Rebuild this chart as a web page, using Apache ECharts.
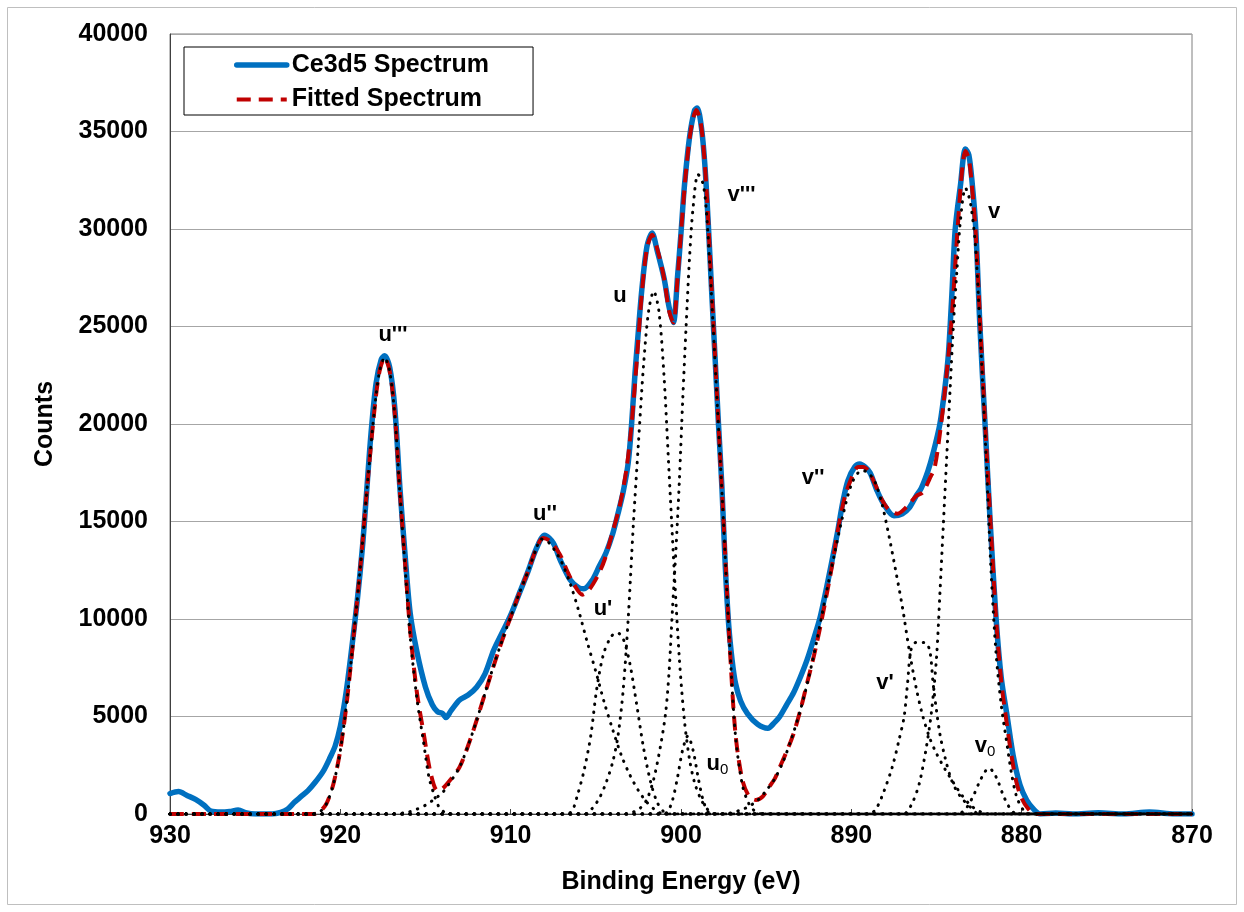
<!DOCTYPE html>
<html>
<head>
<meta charset="utf-8">
<script src="https://cdn.jsdelivr.net/npm/echarts@6/dist/echarts.min.js"></script>
<style>
html,body{margin:0;padding:0;background:#fff;}
#chart{width:1244px;height:912px;}
</style>
</head>
<body>
<div id="chart"></div>
<script>
// X axis ticks (binding energy, eV) and Y ticks (counts)
const xTicks = [930, 920, 910, 900, 890, 880, 870];
const yTicks = [0, 5000, 10000, 15000, 20000, 25000, 30000, 35000, 40000];

// Measured spectrum [E, counts]
const ce3d5 = [[930,1050],[929.5,1150],[929,950],[928.5,750],[928,450],[927.6,150],[927,100],[926.5,130],[926,200],[925.5,50],[925,0],[924,0],[923.5,80],[923.1,250],[922.7,600],[922.3,900],[921.9,1200],[921.5,1600],[921,2200],[920.6,2900],[920.3,3500],[920,4500],[919.7,6000],[919.4,8000],[919,11000],[918.7,13700],[918.5,16000],[918.2,19500],[917.9,22100],[917.6,23300],[917.4,23500],[917.1,22900],[916.8,20800],[916.5,16700],[916.2,13300],[915.9,10300],[915.5,8300],[915,6500],[914.6,5600],[914.3,5250],[914,5150],[913.8,4950],[913.5,5300],[913,5850],[912.5,6100],[912,6500],[911.5,7200],[911,8400],[910.5,9300],[910,10200],[909.5,11300],[909,12400],[908.5,13600],[908,14300],[907.5,13900],[907.1,13050],[906.5,12000],[906,11600],[905.7,11550],[905.2,12000],[904.8,12700],[904.4,13400],[904,14400],[903.7,15400],[903.4,16500],[903.1,18000],[902.9,20000],[902.7,22600],[902.5,24800],[902.3,26900],[902,29100],[901.7,29800],[901.4,28900],[901,27500],[900.7,26000],[900.45,25200],[900.2,27600],[900,29800],[899.8,32200],[899.5,34700],[899.2,36100],[899.05,36200],[898.8,35200],[898.6,33300],[898.4,30300],[898.2,26800],[898,23400],[897.8,20000],[897.6,16800],[897.4,12700],[897.2,9700],[897,7900],[896.8,6700],[896.5,5800],[896.1,5150],[895.5,4600],[894.9,4400],[894.5,4700],[894.2,5000],[893.8,5600],[893.4,6200],[893,7000],[892.6,7900],[892.2,9000],[891.8,10200],[891.2,12700],[890.8,14500],[890.5,16000],[890.2,17100],[889.8,17800],[889.5,17950],[889.2,17800],[888.9,17500],[888.5,16600],[888.1,15900],[887.5,15300],[887,15400],[886.6,15700],[886.2,16300],[885.9,16700],[885.5,17600],[885.2,18500],[884.8,20000],[884.5,21900],[884.3,23600],[884.1,26600],[883.9,30000],[883.6,32200],[883.3,34100],[883.1,33800],[882.9,32300],[882.7,30100],[882.45,25000],[882.15,20000],[881.85,15000],[881.5,10000],[881.2,7000],[880.85,5000],[880.5,3000],[880.1,1500],[879.7,700],[879.3,250],[878.9,0],[878,50],[877,0],[875.5,60],[874,0],[872.5,100],[871,0],[870,0]];

// Fitted spectrum [E, counts]
const fitted = [[930,0],[921.6,0],[921.2,120],[920.8,560],[920.4,1570],[920,3280],[919.6,5900],[919.2,9300],[918.8,12900],[918.4,17000],[918,20700],[917.7,22700],[917.4,23400],[917.1,22700],[916.8,20500],[916.5,16500],[916.2,12900],[915.9,9400],[915.5,6200],[915.1,4100],[914.7,2100],[914.3,1200],[914,1300],[913.5,1800],[913,2400],[912.5,3500],[912,4800],[911.5,6200],[911,7600],[910.5,8900],[910,10100],[909.5,11300],[909,12400],[908.5,13600],[908.1,14150],[907.7,14000],[907.1,13300],[906.7,12500],[906.3,11800],[905.8,11250],[905.4,11500],[904.9,12200],[904.5,13000],[904.1,14200],[903.6,15800],[903.2,17700],[902.9,20000],[902.6,23200],[902.3,26700],[902,29000],[901.7,29700],[901.4,29000],[901,27500],[900.7,25800],[900.45,25200],[900.2,27500],[900,29800],[899.7,33000],[899.4,35200],[899.1,36100],[898.8,35200],[898.5,32000],[898.3,28600],[898.1,25200],[897.9,21700],[897.7,18300],[897.5,15000],[897.3,11400],[897.1,8000],[896.8,4100],[896.4,1750],[896,900],[895.6,720],[895.2,900],[894.9,1300],[894.5,1800],[894.2,2400],[893.8,3200],[893.4,4100],[893,5300],[892.6,6700],[892.2,8100],[891.8,9700],[891.2,12400],[890.8,14500],[890.4,16200],[890,17200],[889.6,17800],[889.3,17800],[889,17600],[888.6,16900],[888.2,16100],[887.8,15600],[887.3,15400],[886.7,15800],[886.2,16300],[885.8,16500],[885.4,17200],[885.1,17800],[884.7,20200],[884.4,22600],[884.1,25500],[883.8,29500],[883.5,33000],[883.3,34000],[883.1,33600],[882.9,32000],[882.7,29800],[882.4,24500],[882.1,19300],[881.8,14500],[881.5,10000],[881.2,6800],[880.9,4800],[880.6,3000],[880.3,1600],[880,800],[879.6,250],[879.2,0],[870,0]];

// Fitted components [E, counts]
const compU3 = [[930,0],[921.8,0],[921.2,120],[920.8,550],[920.4,1550],[920,3250],[919.6,5900],[919.2,9300],[918.8,12900],[918.4,17000],[918,20700],[917.7,22700],[917.4,23400],[917.1,22700],[916.8,20400],[916.5,16400],[916.2,12700],[915.9,9100],[915.5,5900],[915.1,3600],[914.8,1900],[914.5,1000],[914.2,350],[913.8,50],[913.4,0],[870,0]];
const compU2 = [[930,0],[917,0],[916,100],[915.5,250],[915,450],[914.5,750],[914,1100],[913.5,1700],[913,2400],[912.5,3500],[912,4800],[911.5,6200],[911,7600],[910.5,8900],[910,10100],[909.5,11300],[909,12400],[908.5,13600],[908.2,14100],[907.8,13950],[907.4,13500],[907,12900],[906.5,11800],[906,10400],[905.5,8800],[905,7300],[904.5,5700],[904,4300],[903.5,3000],[903,2000],[902.5,1200],[902,600],[901.5,200],[901,0],[870,0]];
const compU1 = [[930,0],[906.8,0],[906.4,150],[906.1,900],[905.7,2200],[905.3,4000],[904.95,6400],[904.55,8200],[904.1,9100],[903.75,9300],[903.4,9000],[903,7700],[902.6,5600],[902.2,3400],[901.8,1700],[901.4,600],[901,100],[900.7,0],[870,0]];
const compU = [[930,0],[905.6,0],[905.2,300],[904.8,800],[904.4,1600],[904,2700],[903.7,4000],[903.4,6300],[903.1,10000],[902.8,14800],[902.5,19000],[902.2,23000],[901.9,25800],[901.6,26800],[901.3,25800],[901,22500],[900.7,17500],[900.4,12500],[900.1,8000],[899.8,4800],[899.5,2800],[899.2,1600],[898.8,700],[898.4,200],[898,0],[870,0]];
const compU0 = [[930,0],[901.1,0],[900.8,100],[900.5,700],[900.2,1900],[899.9,3300],[899.6,4000],[899.3,3300],[899,1900],[898.7,700],[898.4,100],[898.1,0],[870,0]];
const compV3 = [[930,0],[903.2,0],[902.8,100],[902.4,300],[902,750],[901.6,1800],[901.2,3500],[900.9,5200],[900.7,7300],[900.5,10500],[900.3,13500],[900.1,17000],[899.9,21200],[899.7,25000],[899.5,28500],[899.3,31000],[899,32800],[898.7,32300],[898.5,30800],[898.3,28000],[898.1,24800],[897.9,21500],[897.7,18200],[897.5,14900],[897.3,11300],[897.1,8000],[896.8,4000],[896.4,1500],[896,500],[895.6,100],[895.2,0],[870,0]];
const compV2 = [[930,0],[897.5,0],[896.5,200],[896,400],[895.5,700],[895,1200],[894.5,1800],[894,2700],[893.5,3900],[893,5300],[892.5,7000],[892,9000],[891.5,11200],[891,13300],[890.5,15300],[890,16900],[889.6,17500],[889.3,17600],[889,17500],[888.6,17000],[888.2,15900],[887.8,14300],[887.4,12500],[887,10600],[886.6,8400],[886.2,6500],[885.8,5000],[885.4,3900],[885,3100],[884.5,2300],[884,1600],[883.5,950],[883,450],[882.5,150],[882,0],[870,0]];
const compV1 = [[930,0],[889,0],[888.6,200],[888.2,900],[887.6,2400],[887.2,3800],[886.9,5000],[886.7,6700],[886.5,8400],[886.2,8800],[885.7,8800],[885.4,8400],[885.2,6700],[885,5300],[884.8,4100],[884.5,2900],[884.1,1700],[883.6,900],[883,350],[882.5,0],[870,0]];
const compV = [[930,0],[887,0],[886.8,50],[886.4,600],[886,1600],[885.6,3400],[885.3,5200],[885,8000],[884.8,11300],[884.6,14800],[884.4,18300],[884.2,21800],[884,25200],[883.8,27900],[883.6,30400],[883.3,32100],[883,31300],[882.7,29000],[882.4,24000],[882.1,18500],[881.8,12500],[881.5,8200],[881.2,5600],[880.9,3800],[880.6,2100],[880.3,900],[879.9,200],[879.5,0],[870,0]];
const compV0 = [[930,0],[883.8,0],[883.4,150],[883.1,500],[882.8,1000],[882.5,1600],[882.2,2100],[881.95,2350],[881.7,2200],[881.4,1700],[881.1,1000],[880.8,450],[880.5,100],[880.2,0],[870,0]];

// Peak labels: text and anchor [E, counts]
const peakNames = ["u'''", "u''", "u'", "u", "u{s|0}", "v'''", "v''", "v'", "v", "v{s|0}"];
const peakPos = [[916.91,24560],[907.98,15380],[904.58,10510],[903.58,26560],[897.86,2560],[896.45,31740],[892.25,17230],[888.02,6720],[881.62,30850],[882.15,3490]];

const FONT = 'Arial, "Liberation Sans", sans-serif';
const components = [compU3, compU2, compU1, compU, compU0, compV3, compV2, compV1, compV, compV0];

const series = [
  {name:'Ce3d5 Spectrum', type:'line', data: ce3d5, symbol:'none', smooth:0.3,
   lineStyle:{color:'#0070C0', width:5.5, cap:'round', join:'round'}, itemStyle:{color:'#0070C0'}, z:2},
  {name:'Fitted Spectrum', type:'line', data: fitted, symbol:'none', smooth:0.3,
   lineStyle:{color:'#C00000', width:4, type:[14,8]}, itemStyle:{color:'#C00000'}, z:3}
];
components.forEach((c, i) => {
  series.push({name:'comp'+i, type:'line', data:c, symbol:'none', smooth:0.3,
    lineStyle:{color:'#000', width:3, type:[0.5,7.5], cap:'round'}, itemStyle:{color:'#000'}, z:4});
});
series.push({
  name:'labels', type:'scatter', symbolSize:0, z:5, silent:true,
  itemStyle:{opacity:1},
  data: peakPos.map((p, i) => ({value:p, name:peakNames[i]})),
  label:{show:true, position:'inside', formatter: p => p.name, color:'#000', opacity:1,
    fontFamily:FONT, fontSize:22, fontWeight:'bold', align:'center', verticalAlign:'middle',
    textBorderWidth:0,
    rich:{s:{fontSize:15, fontWeight:'normal', fontFamily:FONT, color:'#000', padding:[12,0,0,0]}}}
});

const chart = echarts.init(document.getElementById('chart'), null, {renderer:'canvas'});
chart.setOption({
  animation:false,
  backgroundColor:'#fff',
  textStyle:{fontFamily:FONT},
  grid:{left:170, right:52, top:34, bottom:98, show:true, borderColor:'#7f7f7f', borderWidth:1, containLabel:false},
  legend:{
    data:[
      {name:'Ce3d5 Spectrum', lineStyle:{width:5.5, cap:'round'}},
      {name:'Fitted Spectrum', lineStyle:{width:4}}
    ],
    orient:'vertical', left:184, top:47,
    padding:[5.5,44,3,50], itemWidth:50, itemHeight:14, itemGap:9.5,
    itemStyle:{opacity:0, borderWidth:0},
    borderColor:'#000', borderWidth:1, backgroundColor:'#fff',
    textStyle:{fontSize:25, fontWeight:'bold', color:'#000', fontFamily:FONT}
  },
  xAxis:{
    type:'value', min:xTicks[xTicks.length-1], max:xTicks[0], interval:10, inverse:true,
    axisLine:{show:true, lineStyle:{color:'#404040', width:1}},
    axisTick:{show:true, inside:true, length:5, lineStyle:{color:'#404040'}},
    axisLabel:{fontSize:25, fontWeight:'bold', color:'#000', margin:10, fontFamily:FONT, showMinLabel:true, showMaxLabel:true, formatter: v => String(v)},
    splitLine:{show:false},
    name:'Binding Energy (eV)', nameLocation:'middle', nameGap:56,
    nameTextStyle:{fontSize:25, fontWeight:'bold', color:'#000', fontFamily:FONT}
  },
  yAxis:{
    type:'value', min:yTicks[0], max:yTicks[yTicks.length-1], interval:5000,
    axisLine:{show:true, lineStyle:{color:'#404040', width:1}},
    axisTick:{show:false},
    axisLabel:{fontSize:25, fontWeight:'bold', color:'#000', margin:22, fontFamily:FONT, formatter: v => String(v)},
    splitLine:{show:true, lineStyle:{color:'#a6a6a6', width:1}},
    name:'Counts', nameLocation:'middle', nameGap:112,
    nameTextStyle:{fontSize:25, fontWeight:'bold', color:'#000', fontFamily:FONT}
  },
  graphic:[{type:'rect', shape:{x:7.5, y:7.5, width:1229, height:897}, style:{fill:null, stroke:'#bfbfbf', lineWidth:1}, silent:true, z:-10}],
  series: series
});
</script>
</body>
</html>
